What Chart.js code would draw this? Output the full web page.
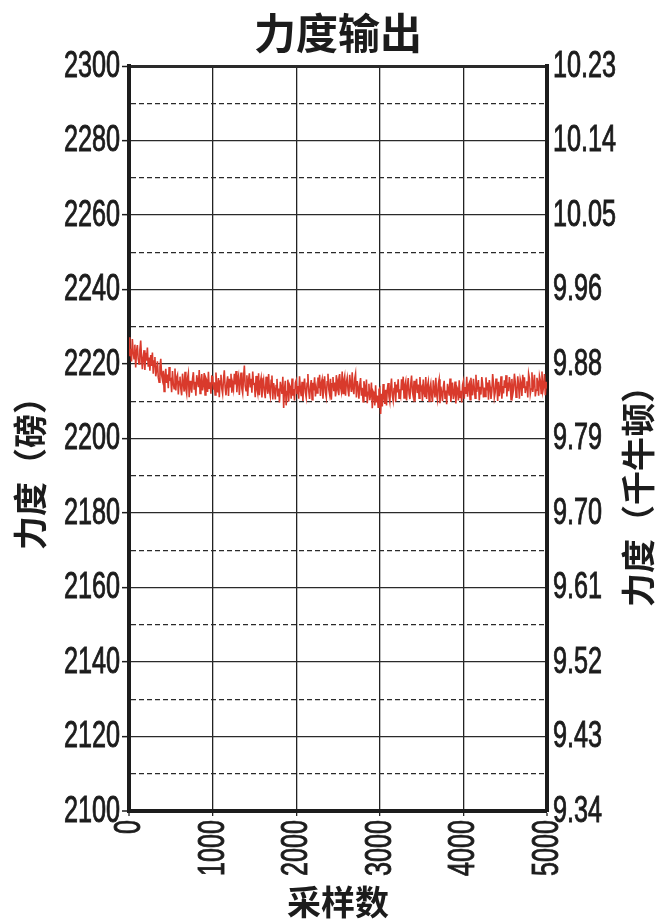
<!DOCTYPE html>
<html>
<head>
<meta charset="utf-8">
<script src="https://cdn.jsdelivr.net/npm/chart.js@4"></script>
<style>
  html, body { margin: 0; padding: 0; background: #fff; }
  #wrap { width: 655px; height: 919px; }
</style>
</head>
<body>
<div id="wrap"><canvas id="grafico" width="655" height="919"></canvas></div>
<script>
const titulo = '力度输出';
const tituloX = '采样数';
const tituloEsq = '力度（磅）';
const tituloDir = '力度（千牛顿）';

// leitura a cada 10 amostras
const passoAmostra = 10;
const forcaLb = [
  2227.2, 2222.1, 2224.1, 2220.7, 2226.7, 2223.2, 2221.4, 2225.2, 2219.1, 2223.4, 2225.1, 2221.4, 2220.0, 2223.8, 2226.3, 2221.7, 2218.6, 2221.9, 2223.7, 2218.4, 2223.0, 2220.9, 2224.4, 2219.3, 2221.7,
  2218.2, 2222.4, 2219.5, 2223.1, 2217.4, 2220.8, 2221.9, 2216.7, 2218.3, 2220.7, 2216.4, 2215.1, 2219.2, 2221.4, 2217.1, 2215.8, 2218.2, 2212.6, 2216.9, 2218.7, 2214.9, 2217.2, 2213.5, 2219.2, 2215.8,
  2216.0, 2212.4, 2218.1, 2214.7, 2213.4, 2218.8, 2212.9, 2216.4, 2217.1, 2211.8, 2215.3, 2216.6, 2213.3, 2211.6, 2217.4, 2214.9, 2212.6, 2217.9, 2213.4, 2212.0, 2216.2, 2217.5, 2211.1, 2215.5, 2213.9,
  2212.3, 2216.0, 2217.8, 2213.1, 2215.2, 2211.5, 2217.0, 2215.4, 2213.8, 2218.4, 2212.1, 2215.0, 2217.3, 2212.9, 2214.4, 2217.6, 2211.7, 2216.2, 2215.6, 2212.5, 2217.9, 2213.3, 2215.1, 2212.0, 2216.7,
  2216.6, 2213.1, 2215.1, 2211.7, 2217.7, 2214.2, 2212.4, 2216.2, 2211.1, 2215.4, 2217.1, 2213.4, 2212.0, 2215.8, 2218.3, 2213.7, 2211.6, 2214.9, 2216.7, 2211.4, 2216.0, 2213.9, 2217.4, 2212.3, 2214.7,
  2213.2, 2217.4, 2214.5, 2218.1, 2212.4, 2215.8, 2216.9, 2211.7, 2215.3, 2217.7, 2213.4, 2212.1, 2216.2, 2219.6, 2214.1, 2212.8, 2217.0, 2211.4, 2215.7, 2217.5, 2213.7, 2216.0, 2212.3, 2218.0, 2214.6,
  2214.7, 2211.1, 2216.8, 2213.4, 2212.1, 2217.5, 2211.6, 2215.1, 2216.3, 2211.0, 2214.5, 2215.8, 2212.5, 2210.8, 2216.6, 2214.1, 2212.0, 2217.3, 2212.8, 2211.4, 2215.6, 2216.9, 2210.5, 2214.9, 2213.3,
  2210.5, 2214.2, 2216.0, 2211.3, 2213.4, 2209.7, 2215.2, 2213.6, 2212.0, 2216.6, 2208.2, 2213.2, 2215.5, 2208.9, 2212.6, 2215.8, 2209.9, 2214.4, 2213.8, 2210.7, 2216.1, 2211.5, 2213.3, 2210.2, 2214.9,
  2215.6, 2212.1, 2214.1, 2210.7, 2216.7, 2213.2, 2211.4, 2215.2, 2210.1, 2214.4, 2216.1, 2212.4, 2211.0, 2214.8, 2217.3, 2212.7, 2210.6, 2213.9, 2215.7, 2210.4, 2215.0, 2212.9, 2216.4, 2211.3, 2213.7,
  2212.2, 2216.4, 2213.5, 2217.1, 2211.4, 2214.8, 2215.9, 2210.7, 2214.3, 2216.7, 2212.4, 2211.1, 2215.2, 2217.4, 2213.1, 2211.8, 2216.0, 2210.4, 2214.7, 2216.5, 2212.7, 2215.0, 2211.3, 2217.0, 2213.6,
  2215.2, 2211.6, 2217.3, 2213.9, 2212.6, 2218.0, 2212.1, 2215.6, 2216.8, 2211.5, 2215.0, 2216.3, 2213.0, 2211.3, 2217.1, 2214.6, 2212.5, 2217.8, 2213.3, 2211.9, 2216.1, 2217.4, 2211.0, 2215.4, 2213.8,
  2210.7, 2214.4, 2216.2, 2211.5, 2213.6, 2209.9, 2215.4, 2213.8, 2211.2, 2215.8, 2209.5, 2212.4, 2214.7, 2210.3, 2211.8, 2215.0, 2208.1, 2212.6, 2212.0, 2208.9, 2214.3, 2209.7, 2211.5, 2208.4, 2213.1,
  2213.5, 2206.6, 2212.0, 2208.6, 2214.6, 2211.1, 2209.3, 2213.1, 2208.9, 2213.2, 2214.9, 2211.2, 2209.8, 2213.6, 2216.1, 2211.5, 2210.1, 2213.4, 2215.2, 2209.9, 2214.5, 2212.4, 2215.9, 2210.8, 2213.2,
  2211.7, 2215.9, 2213.0, 2216.6, 2210.9, 2214.3, 2215.4, 2210.2, 2213.8, 2216.2, 2211.9, 2210.6, 2214.7, 2216.9, 2212.6, 2211.3, 2215.5, 2209.9, 2214.2, 2216.0, 2212.2, 2214.5, 2210.8, 2216.5, 2213.1,
  2213.7, 2210.1, 2215.8, 2212.4, 2211.1, 2216.5, 2210.6, 2214.1, 2215.3, 2210.0, 2213.5, 2214.8, 2211.5, 2209.8, 2215.6, 2213.1, 2211.0, 2216.3, 2211.8, 2210.4, 2214.6, 2215.9, 2209.5, 2213.9, 2212.3,
  2210.0, 2213.7, 2215.5, 2210.8, 2212.9, 2209.2, 2214.7, 2213.1, 2211.5, 2216.1, 2209.8, 2212.7, 2215.0, 2210.6, 2212.1, 2215.3, 2209.4, 2213.9, 2213.3, 2210.2, 2215.6, 2211.0, 2212.8, 2209.7, 2214.4,
  2215.4, 2210.7, 2213.8, 2212.0, 2216.6, 2211.2, 2214.3, 2214.9, 2210.4, 2216.3, 2213.1, 2211.6, 2216.0, 2213.7, 2210.8, 2217.1, 2212.5, 2214.1, 2215.7, 2210.2, 2213.9, 2211.8, 2216.5, 2214.7, 2211.0,
  2213.7, 2211.3, 2216.4, 2212.9, 2215.0, 2210.4, 2215.7, 2213.9, 2210.6, 2212.7, 2217.3, 2214.8, 2211.0, 2212.4, 2216.1, 2214.4, 2210.1, 2215.2, 2211.4, 2213.2, 2216.7, 2210.7, 2214.1, 2212.1, 2215.6,
  2213.6, 2217.0, 2211.3, 2215.0, 2212.7, 2216.5, 2214.7, 2210.4, 2216.0, 2211.8, 2213.1, 2217.4, 2215.2, 2211.1, 2212.4, 2216.7, 2214.3, 2210.7, 2215.9, 2214.8, 2211.4, 2217.1, 2213.5, 2216.4, 2212.2,
  2213.8, 2215.4, 2211.0, 2217.4, 2216.1, 2211.9, 2213.3, 2217.8, 2212.5, 2214.6, 2217.1, 2211.3, 2213.0, 2216.3, 2215.0, 2211.5, 2216.8, 2215.6, 2212.1, 2218.0, 2212.6, 2213.9, 2217.3, 2211.6, 2215.2,
  2213.4
];

const ticksLb = [2100, 2120, 2140, 2160, 2180, 2200, 2220, 2240, 2260, 2280, 2300];
const ticksKn = ['9.34', '9.43', '9.52', '9.61', '9.70', '9.79', '9.88', '9.96', '10.05', '10.14', '10.23'];
const ticksX = [0, 1000, 2000, 3000, 4000, 5000];

const fonteNum = "'Liberation Sans', Arial, sans-serif";
const fonteCJK = "'Noto Sans CJK SC', sans-serif";
const preto = '#1c1c1c';
const aperto = 0.7; // numeros condensados

function textoEstreito(ctx, txt, x, y, ang, alinh) {
  ctx.save();
  ctx.translate(x, y);
  ctx.rotate(ang);
  ctx.scale(aperto, 1);
  ctx.textAlign = alinh;
  ctx.fillText(txt, 0, 0);
  ctx.strokeText(txt, 0, 0);
  ctx.restore();
}

// rotulos e titulos
const textos = {
  id: 'textos',
  afterDraw(chart) {
    const { ctx, chartArea: a, scales } = chart;
    const cx = (a.left + a.right) / 2;
    ctx.save();
    ctx.fillStyle = preto;
    ctx.strokeStyle = preto;
    ctx.lineWidth = 0.9;
    ctx.textBaseline = 'middle';

    ctx.font = '36px ' + fonteNum;
    ticksLb.forEach((v, i) => {
      const y = scales.y.getPixelForValue(v);
      textoEstreito(ctx, String(v), a.left - 9, y + 1, 0, 'right');
      textoEstreito(ctx, ticksKn[i], a.right + 6, y + 1, 0, 'left');
    });
    ticksX.forEach(v => {
      textoEstreito(ctx, String(v), scales.x.getPixelForValue(v) + 1, a.bottom + 9, -Math.PI / 2, 'right');
    });

    ctx.textAlign = 'center';
    ctx.font = 'bold 42px ' + fonteCJK;
    ctx.fillText(titulo, cx, 33);
    ctx.font = 'bold 34px ' + fonteCJK;
    ctx.fillText(tituloX, cx, 902);
    ctx.save();
    ctx.translate(30, 465);
    ctx.rotate(-Math.PI / 2);
    ctx.fillText(tituloEsq, 0, 0);
    ctx.restore();
    ctx.save();
    ctx.translate(638, 488);
    ctx.rotate(-Math.PI / 2);
    ctx.fillText(tituloDir, 0, 0);
    ctx.restore();
    ctx.restore();
  }
};

const maior = v => v % 20 === 0;

new Chart(document.getElementById('grafico'), {
  type: 'line',
  data: {
    datasets: [{
      data: forcaLb.map((v, i) => ({ x: i * passoAmostra, y: v })),
      borderColor: '#d93a2c',
      borderWidth: 1.6,
      pointRadius: 0,
      tension: 0
    }]
  },
  options: {
    responsive: false,
    animation: false,
    layout: { padding: { top: 66, left: 0, right: 0, bottom: 0 } },
    plugins: { legend: { display: false }, tooltip: { enabled: false } },
    scales: {
      x: {
        type: 'linear',
        min: 0, max: 5000,
        afterBuildTicks: s => { s.ticks = ticksX.map(v => ({ value: v })); },
        afterFit: s => { s.height = 108; },
        ticks: { display: false, autoSkip: false },
        grid: {
          color: '#222',
          lineWidth: c => (c.tick && (c.tick.value === 0 || c.tick.value === 5000)) ? 0 : 1.3,
          tickLength: 5, tickColor: '#222', tickWidth: 1.3
        },
        border: { color: preto, width: 4 }
      },
      y: {
        position: 'left',
        min: 2100, max: 2300,
        afterBuildTicks: s => {
          const t = [];
          for (let i = 0; i < ticksLb.length; i++) {
            t.push({ value: ticksLb[i] });
            if (i < ticksLb.length - 1) t.push({ value: ticksLb[i] + 10 });
          }
          s.ticks = t;
        },
        afterFit: s => { s.width = 129; },
        ticks: { display: false, autoSkip: false },
        grid: {
          color: '#2a2a2a',
          lineWidth: c => {
            if (!c.tick) return 1.3;
            if (c.tick.value === 2300) return 3;
            if (c.tick.value === 2100) return 0;
            return 1.3;
          },
          tickLength: 7,
          tickWidth: 1.5,
          tickColor: c => (c.tick && maior(c.tick.value)) ? preto : 'rgba(0,0,0,0)'
        },
        border: {
          color: preto, width: 4,
          dash: c => (c.tick && !maior(c.tick.value)) ? [5, 3] : []
        }
      },
      y2: {
        position: 'right',
        min: 2100, max: 2300,
        afterBuildTicks: s => { s.ticks = ticksLb.map(v => ({ value: v })); },
        afterFit: s => { s.width = 108; },
        ticks: { display: false },
        grid: { drawOnChartArea: false, drawTicks: false },
        border: { color: preto, width: 4 }
      }
    }
  },
  plugins: [textos]
});
</script>
</body>
</html>
